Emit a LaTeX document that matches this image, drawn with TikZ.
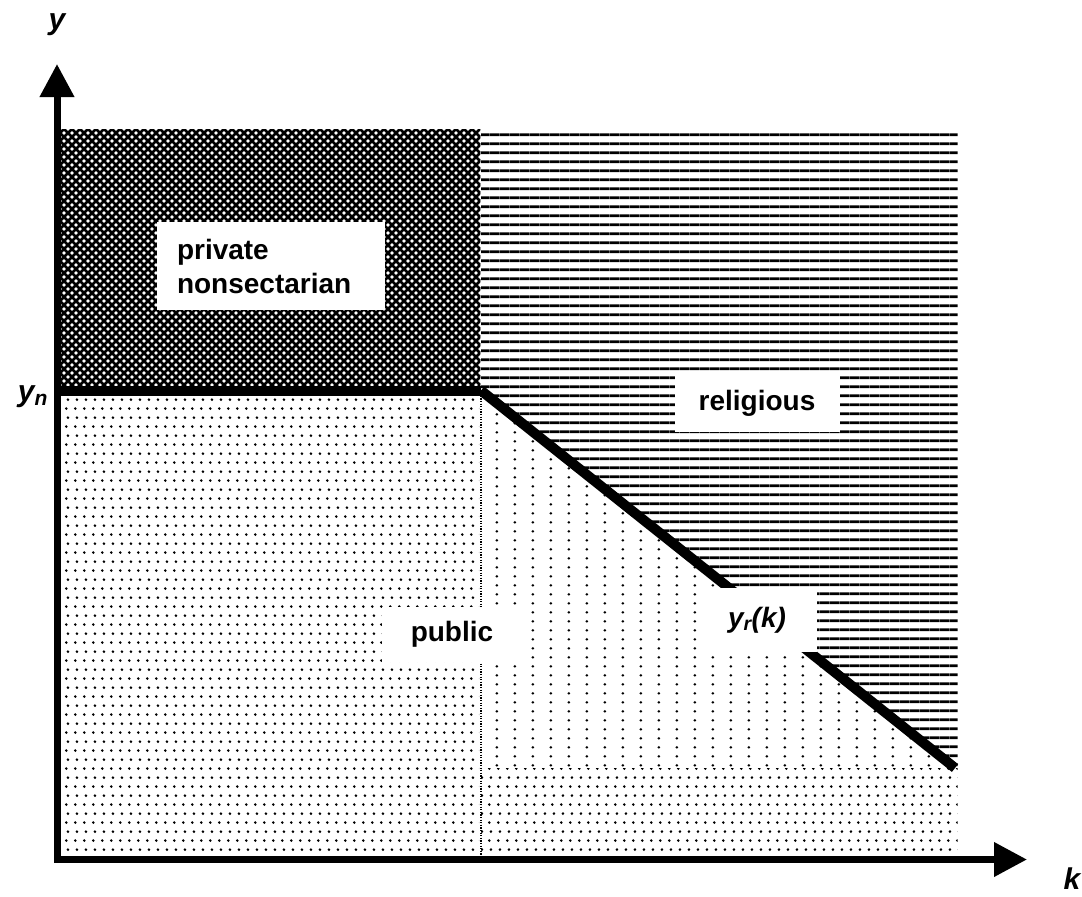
\documentclass[tikz,border=0pt]{standalone}
\usepackage{fontspec}
\setmainfont{Liberation Sans}
\usetikzlibrary{patterns,arrows.meta}

% fill patterns for the four school regions
\pgfdeclarepatternformonly{pubdots}{\pgfqpoint{0pt}{0pt}}{\pgfqpoint{9.2pt}{18.4pt}}{\pgfqpoint{9.2pt}{18.4pt}}{%
  \pgfpathcircle{\pgfqpoint{2.5pt}{2.5pt}}{1.5pt}%
  \pgfpathcircle{\pgfqpoint{4.3pt}{11.7pt}}{1.5pt}%
  \pgfusepath{fill}}
\pgfdeclarepatternformonly{coldots}{\pgfqpoint{0pt}{0pt}}{\pgfqpoint{18.3pt}{9.2pt}}{\pgfqpoint{18.3pt}{9.2pt}}{%
  \pgfpathcircle{\pgfqpoint{4pt}{4pt}}{1.5pt}%
  \pgfusepath{fill}}
\pgfdeclarepatternformonly{hrules}{\pgfqpoint{0pt}{0pt}}{\pgfqpoint{10pt}{9.2pt}}{\pgfqpoint{10pt}{9.2pt}}{%
  \pgfpathrectangle{\pgfqpoint{-0.5pt}{3pt}}{\pgfqpoint{11pt}{3pt}}%
  \pgfusepath{fill}}
\pgfdeclarepatternformonly{xhatch}{\pgfqpoint{-1pt}{-1pt}}{\pgfqpoint{9pt}{9pt}}{\pgfqpoint{8pt}{8pt}}{%
  \pgfsetlinewidth{2.8pt}%
  \pgfpathmoveto{\pgfqpoint{-1pt}{-1pt}}\pgfpathlineto{\pgfqpoint{9pt}{9pt}}%
  \pgfpathmoveto{\pgfqpoint{-1pt}{9pt}}\pgfpathlineto{\pgfqpoint{9pt}{-1pt}}%
  \pgfusepath{stroke}}

\tikzset{
  axis/.style={line width=7pt, line cap=rect, -{Triangle[length=33pt,width=33pt]}},
  bound/.style={line width=10pt},
  divider/.style={line width=1.6pt, dash pattern=on 1.3pt off 1.3pt},
  lbl/.style={fill=white, inner sep=0pt, font=\fontsize{28}{34}\selectfont\bfseries},
  axlbl/.style={inner sep=0pt, font=\fontsize{30}{36}\selectfont\bfseries\itshape},
}

\begin{document}
\begin{tikzpicture}[x=1pt,y=-1pt]
  \fill[white] (0,0) rectangle (1082,897);
  \useasboundingbox (0,0) rectangle (1082,897);

  % key points
  \coordinate (O)    at (57,859.5);
  \coordinate (ytop) at (57,64);
  \coordinate (xend) at (1027,859.5);
  \coordinate (yn0)  at (57,390.5);
  \coordinate (kink) at (481,390.5);
  \coordinate (rend) at (955,768);

  % regions
  \fill[pattern=xhatch] (60.5,129.5) rectangle (480,390);
  \fill[pattern=hrules] (481,129.5) -- (957.5,129.5) -- (957.5,770) -- (481,390) -- cycle;
  \fill[pattern=pubdots] (60.5,390) rectangle (479,856);
  \fill[pattern=pubdots] (481,768) rectangle (957.5,856);
  \fill[pattern=coldots] (482,392) -- (955,768) -- (482,768) -- cycle;

  % divider between the left and right parts of the public region
  \draw[divider] (kink) -- (481,856);

  % boundaries
  \draw[bound] (yn0) -- (kink);
  \draw[bound] (kink) -- (rend);

  % region labels
  \node[lbl, minimum width=228pt, minimum height=88pt, text width=188pt, inner xsep=20pt, align=left]
    (priv) at (271,266) {private\\nonsectarian};
  \node[lbl, minimum width=165pt, minimum height=57pt] (rel) at (757,403) {religious};
  \node[lbl, minimum width=140pt, minimum height=55pt] (pub) at (452,634) {public};
  \node[lbl, font=\fontsize{28}{34}\selectfont\bfseries\itshape, minimum width=120pt, minimum height=64pt]
    (yr) at (757,620) {y\textsubscript{r}(k)};

  % axes
  \draw[axis] (O) -- (ytop);
  \draw[axis] (O) -- (xend);

  % axis labels
  \node[axlbl] (ylab) at (57,25) {y};
  \node[axlbl] (klab) at (1072,879) {k};
  \node[axlbl] (ynlab) at (33,397) {y\textsubscript{n}};
\end{tikzpicture}
\end{document}
